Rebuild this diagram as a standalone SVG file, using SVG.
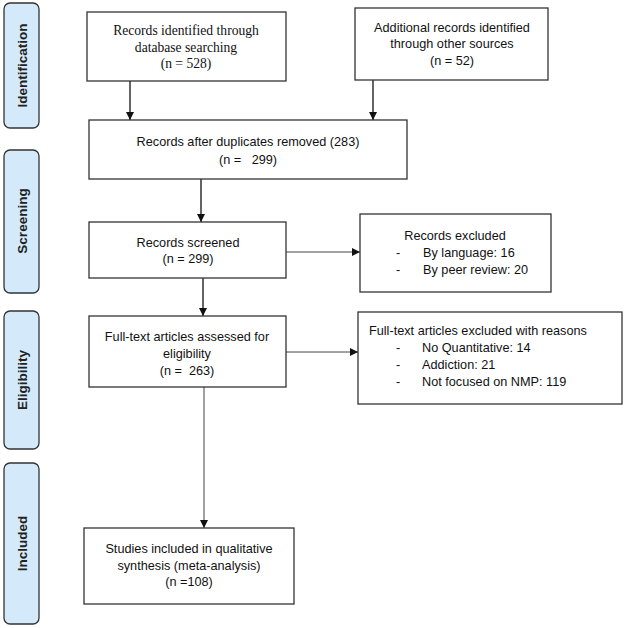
<svg xmlns="http://www.w3.org/2000/svg" width="625" height="628" viewBox="0 0 625 628">
<style>
.bg{fill:#ffffff}
.phase{fill:#d4eafb;stroke:#333333;stroke-width:1.3}
.phase-t{font-family:"Liberation Sans",Arial,sans-serif;font-weight:bold;font-size:13.5px;fill:#222222;text-anchor:middle}
.box{fill:#ffffff;stroke:#333333;stroke-width:1.3}
.serif{font-family:"Liberation Serif","Times New Roman",serif;font-size:13.6px;fill:#111111;text-anchor:middle}
.sans{font-family:"Liberation Sans",Arial,sans-serif;font-size:12.7px;fill:#111111;text-anchor:middle}
.left{text-anchor:start}
.conn{stroke:#111111;stroke-width:1.3;fill:none}
.thin{stroke:#444444;stroke-width:1;fill:none}
</style>
<defs>
<marker id="ah" viewBox="0 0 10 10" refX="10" refY="5" markerWidth="8" markerHeight="8" markerUnits="userSpaceOnUse" orient="auto">
<path d="M0,0 L10,5 L0,10 z" fill="#111111"/>
</marker>
</defs>
<rect class="bg" x="0" y="0" width="625" height="628"/>

<g id="phase-identification">
<rect class="phase" x="4" y="3" width="35" height="125" rx="6"/>
<text class="phase-t" transform="translate(22,65.5) rotate(-90)" dy="0.35em">Identification</text>
</g>
<g id="phase-screening">
<rect class="phase" x="4" y="150" width="35" height="143" rx="6"/>
<text class="phase-t" transform="translate(22,221) rotate(-90)" dy="0.35em">Screening</text>
</g>
<g id="phase-eligibility">
<rect class="phase" x="4" y="311" width="35" height="138" rx="6"/>
<text class="phase-t" transform="translate(22,380) rotate(-90)" dy="0.35em">Eligibility</text>
</g>
<g id="phase-included">
<rect class="phase" x="4" y="463" width="35" height="161" rx="6"/>
<text class="phase-t" transform="translate(22,543.5) rotate(-90)" dy="0.35em">Included</text>
</g>

<g id="connectors">
<line class="conn" x1="130" y1="81" x2="130" y2="120" marker-end="url(#ah)"/>
<line class="conn" x1="373" y1="80" x2="373" y2="120" marker-end="url(#ah)"/>
<line class="conn" x1="201" y1="179" x2="201" y2="222" marker-end="url(#ah)"/>
<line class="conn" x1="203" y1="278" x2="203" y2="316" marker-end="url(#ah)"/>
<line class="thin" x1="286" y1="252" x2="360" y2="252" marker-end="url(#ah)"/>
<line class="thin" x1="286" y1="352" x2="358" y2="352" marker-end="url(#ah)"/>
<line class="thin" x1="204" y1="387" x2="204" y2="528" marker-end="url(#ah)"/>
</g>

<g id="n-db">
<rect class="box" x="87" y="12" width="199" height="69"/>
<text class="serif" x="186" y="35">Records identified through</text>
<text class="serif" x="186" y="52">database searching</text>
<text class="serif" x="186" y="68">(n = 528)</text>
</g>
<g id="n-other">
<rect class="box" x="355" y="8" width="193" height="72"/>
<text class="sans" x="452" y="32">Additional records identified</text>
<text class="sans" x="452" y="48">through other sources</text>
<text class="sans" x="452" y="65">(n = 52)</text>
</g>
<g id="n-dups">
<rect class="box" x="89" y="120" width="318" height="59"/>
<text class="sans" x="248" y="146">Records after duplicates removed (283)</text>
<text class="sans" x="248" y="164" xml:space="preserve">(n =   299)</text>
</g>
<g id="n-screened">
<rect class="box" x="89" y="222" width="197" height="56"/>
<text class="sans" x="188" y="247">Records screened</text>
<text class="sans" x="188" y="263">(n = 299)</text>
</g>
<g id="n-excluded">
<rect class="box" x="360" y="214" width="191" height="78"/>
<text class="sans" x="455" y="240">Records excluded</text>
<text class="sans left" x="396" y="257">-</text>
<text class="sans left" x="423" y="257">By language: 16</text>
<text class="sans left" x="396" y="274">-</text>
<text class="sans left" x="423" y="274">By peer review: 20</text>
</g>
<g id="n-fulltext">
<rect class="box" x="89" y="316" width="197" height="71"/>
<text class="sans" x="187" y="341">Full-text articles assessed for</text>
<text class="sans" x="187" y="358">eligibility</text>
<text class="sans" x="187" y="375" xml:space="preserve">(n =  263)</text>
</g>
<g id="n-ft-excluded">
<rect class="box" x="358" y="312" width="264" height="92"/>
<text class="sans left" x="369" y="335">Full-text articles excluded with reasons</text>
<text class="sans left" x="396" y="352">-</text>
<text class="sans left" x="422" y="352">No Quantitative: 14</text>
<text class="sans left" x="396" y="369">-</text>
<text class="sans left" x="422" y="369">Addiction: 21</text>
<text class="sans left" x="396" y="386">-</text>
<text class="sans left" x="422" y="386">Not focused on NMP: 119</text>
</g>
<g id="n-included">
<rect class="box" x="84" y="528" width="210" height="76"/>
<text class="sans" x="189" y="553">Studies included in qualitative</text>
<text class="sans" x="189" y="570">synthesis (meta-analysis)</text>
<text class="sans" x="189" y="586">(n =108)</text>
</g>
</svg>
